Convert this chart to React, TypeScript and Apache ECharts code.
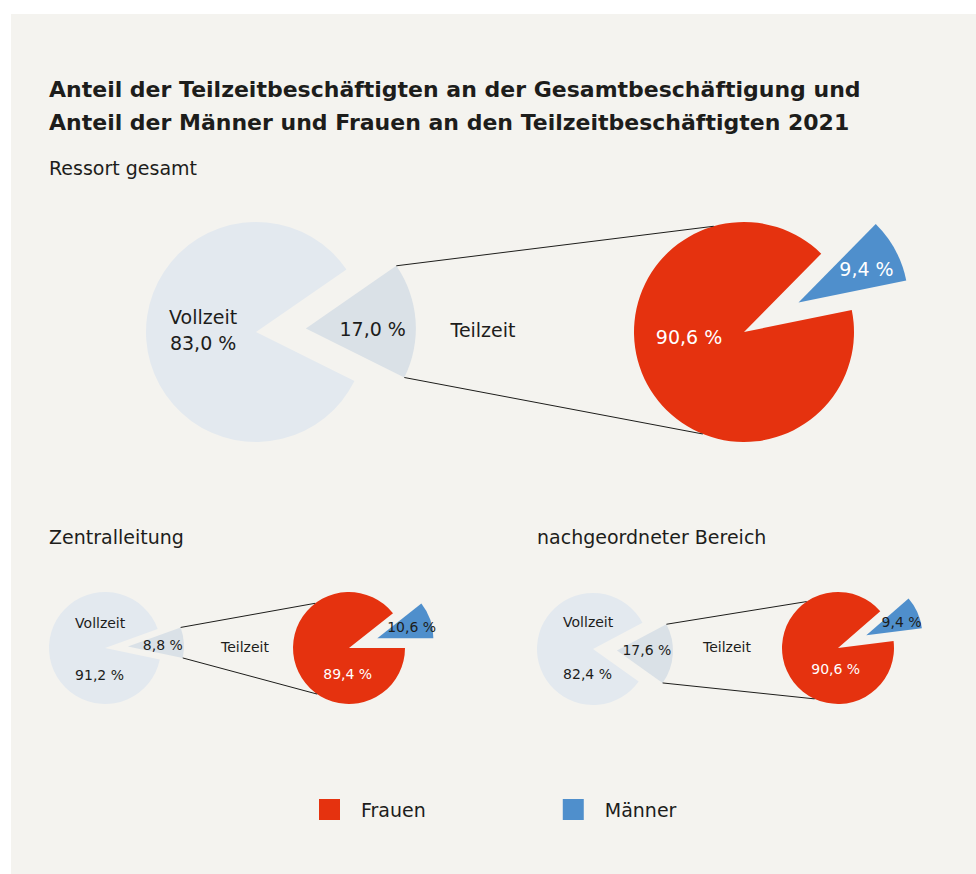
import React, { useEffect, useRef } from "react";
import * as echarts from "echarts";

// ---------- data ----------
const titleLines = [
  "Anteil der Teilzeitbeschäftigten an der Gesamtbeschäftigung und",
  "Anteil der Männer und Frauen an den Teilzeitbeschäftigten 2021",
];
const sectionNames = ["Ressort gesamt", "Zentralleitung", "nachgeordneter Bereich"];
const workNames = ["Teilzeit", "Vollzeit"];
const genderNames = ["Männer", "Frauen"];
const teilzeitShare = [17.0, 8.8, 17.6];
const vollzeitShare = [83.0, 91.2, 82.4];
const maennerShare = [9.4, 10.6, 9.4];
const frauenShare = [90.6, 89.4, 90.6];
const legendNames = ["Frauen", "Männer"];

// ---------- styles / layout ----------
const C = {
  bg: "#f4f3ef",
  voll: "#e3e9ef",
  teil: "#dae1e7",
  frauen: "#e5320f",
  maenner: "#4f8fcc",
  text: "#1d1d1b",
  white: "#ffffff",
};
const FONT = '"DejaVu Sans", "Noto Sans", sans-serif';

type Shift = [number, number];
interface Layout {
  header: { x: number; y: number };
  work: { cx: number; cy: number; r: number; start: number; explode: number };
  gender: { cx: number; cy: number; r: number; start: number; explode: number };
  teilText: { x: number; y: number };
  font: number;
  vollLineHeight: number;
  vollAlign: "center" | "left";
  maennerColor: string;
  targetAngles: [number, number];
  shift: { teil: Shift; voll: Shift; maenner: Shift; frauen: Shift };
}

const LAYOUT: Layout[] = [
  {
    header: { x: 49, y: 168 },
    work: { cx: 256, cy: 332, r: 110, start: 34.7, explode: 50 },
    gender: { cx: 744, cy: 332, r: 110, start: 45.4, explode: 62 },
    teilText: { x: 483, y: 330 },
    font: 19,
    vollLineHeight: 26,
    vollAlign: "center",
    maennerColor: C.white,
    targetAngles: [106, -112],
    shift: { teil: [9, 5], voll: [5, -6], maenner: [17, -6], frauen: [-4, -23] },
  },
  {
    header: { x: 49, y: 537 },
    work: { cx: 105, cy: 648, r: 56, start: 19.8, explode: 23 },
    gender: { cx: 349, cy: 648, r: 56, start: 38.2, explode: 30 },
    teilText: { x: 245, y: 647 },
    font: 14,
    vollLineHeight: 52,
    vollAlign: "left",
    maennerColor: C.text,
    targetAngles: [127, -124.6],
    shift: { teil: [4, 1], voll: [1, -1], maenner: [5, -1], frauen: [28, 16] },
  },
  {
    header: { x: 537, y: 537 },
    work: { cx: 593, cy: 649, r: 56, start: 28, explode: 24 },
    gender: { cx: 838, cy: 648, r: 56, start: 41, explode: 31 },
    teilText: { x: 727, y: 647 },
    font: 14,
    vollLineHeight: 52,
    vollAlign: "left",
    maennerColor: C.text,
    targetAngles: [124, -114.7],
    shift: { teil: [-1, -3], voll: [1, 1], maenner: [7, -1], frauen: [26, 8] },
  },
];

const fmt = (v: number) => v.toFixed(1).replace(".", ",") + " %";
const rad = (d: number) => (d * Math.PI) / 180;

function textEl(text: string, x: number, y: number, size: number, align: string, weight = "normal") {
  return {
    type: "text",
    x,
    y,
    silent: true,
    style: {
      text,
      fill: C.text,
      fontFamily: FONT,
      fontSize: size,
      fontWeight: weight,
      align,
      verticalAlign: "middle",
      textAlign: align,
      textVerticalAlign: "middle",
    },
  };
}

function buildOption() {
  const series: any[] = [];
  const graphics: any[] = [];

  graphics.push({
    type: "rect",
    z: -10,
    shape: { x: 11, y: 14, width: 976 - 11, height: 874 - 14 },
    style: { fill: C.bg },
    silent: true,
  });

  titleLines.forEach((t, i) => {
    graphics.push(textEl(t, 49, 89 + i * 33, 22, "left", "bold"));
  });

  LAYOUT.forEach((L, i) => {
    const teil = teilzeitShare[i];
    const voll = vollzeitShare[i];
    const maen = maennerShare[i];
    const frau = frauenShare[i];

    graphics.push(textEl(sectionNames[i], L.header.x, L.header.y, 19, "left"));
    graphics.push(textEl(workNames[0], L.teilText.x, L.teilText.y, L.font, "center"));

    const base = {
      type: "pie",
      silent: true,
      clockwise: true,
      selectedMode: "single",
      avoidLabelOverlap: false,
      labelLine: { show: false },
      emphasis: { disabled: true },
      select: { itemStyle: { borderWidth: 0 } },
      itemStyle: { borderWidth: 0 },
    };

    const wk = L.work;
    const wShifts = [L.shift.teil, L.shift.voll];
    series.push({
      ...base,
      name: sectionNames[i] + " Beschäftigung",
      center: [wk.cx, wk.cy],
      radius: wk.r,
      startAngle: wk.start,
      selectedOffset: wk.explode,
      label: {
        show: true,
        position: "inside",
        fontFamily: FONT,
        fontSize: L.font,
        color: C.text,
      },
      labelLayout: (p: any) => {
        const s = wShifts[p.dataIndex];
        const res: any = { dx: s[0], dy: s[1] };
        if (p.dataIndex === 1 && L.vollAlign === "left") res.align = "left";
        return res;
      },
      data: [
        {
          name: workNames[0],
          value: teil,
          selected: true,
          itemStyle: { color: C.teil },
          label: { formatter: () => fmt(teil) },
        },
        {
          name: workNames[1],
          value: voll,
          itemStyle: { color: C.voll },
          label: {
            formatter: () => workNames[1] + "\n" + fmt(voll),
            lineHeight: L.vollLineHeight,
            align: L.vollAlign,
          },
        },
      ],
    });

    const gd = L.gender;
    const gShifts = [L.shift.maenner, L.shift.frauen];
    series.push({
      ...base,
      name: sectionNames[i] + " Teilzeit",
      center: [gd.cx, gd.cy],
      radius: gd.r,
      startAngle: gd.start,
      selectedOffset: gd.explode,
      label: {
        show: true,
        position: "inside",
        fontFamily: FONT,
        fontSize: L.font,
        color: C.white,
      },
      labelLayout: (p: any) => {
        const s = gShifts[p.dataIndex];
        return { dx: s[0], dy: s[1] };
      },
      data: [
        {
          name: genderNames[0],
          value: maen,
          selected: true,
          itemStyle: { color: C.maenner },
          label: { formatter: () => fmt(maen), color: L.maennerColor },
        },
        {
          name: genderNames[1],
          value: frau,
          itemStyle: { color: C.frauen },
          label: { formatter: () => fmt(frau), color: C.white },
        },
      ],
    });

    // connector lines from the exploded Teilzeit slice to the gender pie
    const span = (teil / (teil + voll)) * 360;
    const bis = wk.start - span / 2;
    const ex = wk.cx + wk.explode * Math.cos(rad(bis));
    const ey = wk.cy - wk.explode * Math.sin(rad(bis));
    const corners = [wk.start, wk.start - span].map((a) => [
      ex + wk.r * Math.cos(rad(a)),
      ey - wk.r * Math.sin(rad(a)),
    ]);
    L.targetAngles.forEach((a, k) => {
      const tx = gd.cx + gd.r * Math.cos(rad(a));
      const ty = gd.cy - gd.r * Math.sin(rad(a));
      graphics.push({
        type: "line",
        z: 10,
        shape: { x1: corners[k][0], y1: corners[k][1], x2: tx, y2: ty },
        style: { stroke: C.text, lineWidth: 1 },
        silent: true,
      });
    });
  });

  return {
    animation: false,
    backgroundColor: "#ffffff",
    legend: {
      data: legendNames,
      left: 319,
      top: 799,
      orient: "horizontal",
      icon: "rect",
      itemWidth: 21,
      itemHeight: 21,
      itemGap: 137,
      selectedMode: false,
      padding: 0,
      textStyle: {
        fontFamily: FONT,
        fontSize: 19,
        color: C.text,
        padding: [0, 0, 0, 16],
      },
    },
    graphic: { elements: graphics },
    series,
  };
}

export default function App() {
  const ref = useRef<HTMLDivElement>(null);
  useEffect(() => {
    if (!ref.current) return;
    const chart = echarts.init(ref.current, undefined, { renderer: "svg" });
    chart.setOption(buildOption() as any);
    return () => chart.dispose();
  }, []);
  return (
    <div
      ref={ref}
      style={{ position: "absolute", left: 0, top: 0, width: 976, height: 874 }}
    />
  );
}
